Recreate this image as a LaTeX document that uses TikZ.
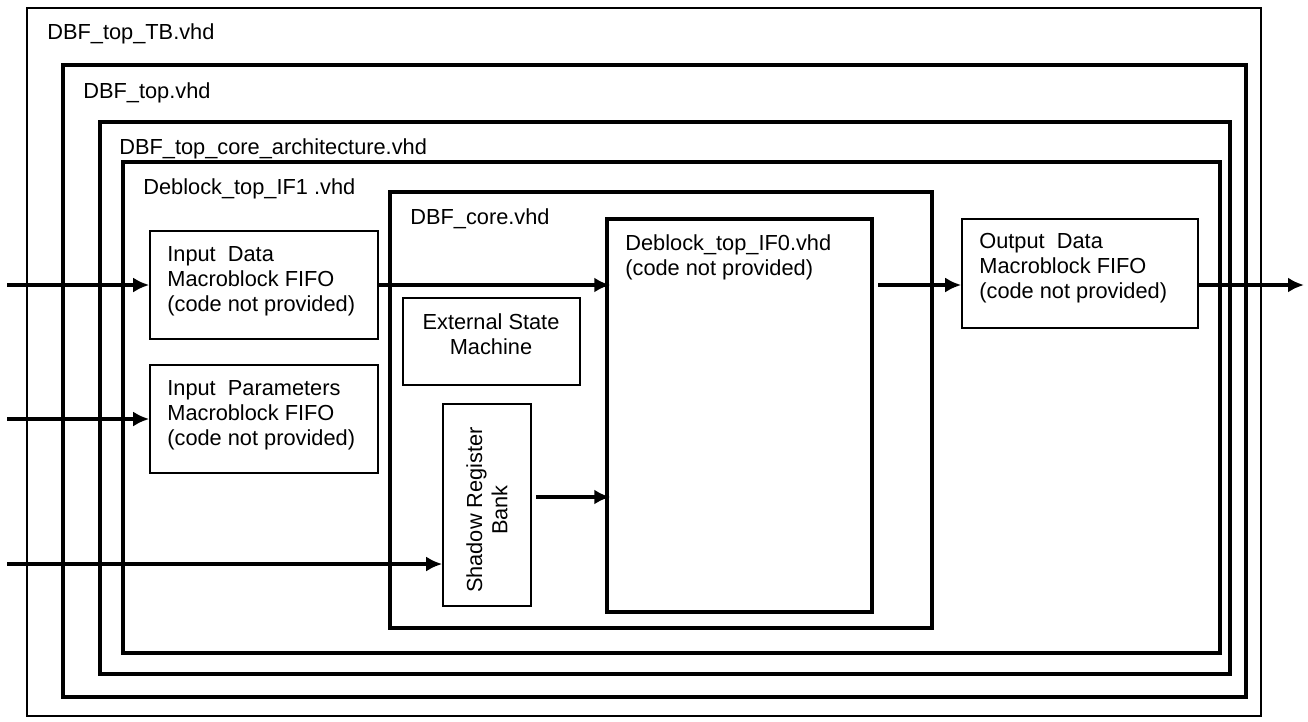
\documentclass[tikz,border=0pt]{standalone}
\usepackage{fontspec}
\setmainfont{Liberation Sans}
\usetikzlibrary{arrows.meta,fit,positioning,calc}

\tikzset{
  frame/.style={draw=black, inner sep=0pt, line width=2.4pt},
  blk/.style={draw=black, inner sep=0pt, line width=0.9pt},
  txt/.style={inner sep=0pt, align=left, anchor=north west},
  arr/.style={-{Latex[length=3.2mm,width=3mm]}, line width=1.9pt},
}

\begin{document}
\begin{tikzpicture}[x=0.02cm, y=-0.02cm, font=\fontsize{12.4}{14.3}\selectfont]

    \useasboundingbox (0,0) rectangle (1308,721);

    % nested vhd files
    \node[frame, line width=1.3pt, fit={(27,8) (1261,716)}] (tb) {};
    \node[frame, fit={(63,65) (1246,697)}] (top) {};
    \node[frame, fit={(100,122) (1230,674)}] (arch) {};
    \node[frame, fit={(123,162) (1220,653)}] (if1) {};
    \node[frame, line width=1.8pt, fit={(390,192) (932,628)}] (core) {};
    \node[frame, line width=2pt, fit={(607,219) (872,612)}] (if0) {};

    \node[txt] (tbname)   at (47,23)  {DBF\_top\_TB.vhd};
    \node[txt] (topname)  at (83,82)  {DBF\_top.vhd};
    \node[txt] (archname) at (119,138) {DBF\_top\_core\_architecture.vhd};
    \node[txt] (if1name)  at (143,178) {Deblock\_top\_IF1 .vhd};
    \node[txt] (corename) at (410,208) {DBF\_core.vhd};
    \node[txt] (if0name)  at (625,234) {Deblock\_top\_IF0.vhd\\(code not provided)};

    % blocks
    \node[blk, fit={(150,231) (378,339)}] (indata) {};
    \node[blk, fit={(150,365) (378,473)}] (inpar) {};
    \node[blk, fit={(403,298) (580,385)}] (esm) {};
    \node[blk, fit={(443,404) (531,606)}] (shadow) {};
    \node[blk, fit={(962,219) (1198,328)}] (outdata) {};

    \node[txt] (indatatxt)  at (167,246) {Input~ Data\\Macroblock FIFO\\(code not provided)};
    \node[txt] (inpartxt)   at (167,380) {Input~ Parameters\\Macroblock FIFO\\(code not provided)};
    \node[txt] (outdatatxt) at (979,233) {Output~ Data\\Macroblock FIFO\\(code not provided)};
    \node[inner sep=0pt, align=center, anchor=north] (esmtxt) at (491,313) {External State\\Machine};
    \node[inner sep=0pt, align=center, rotate=90] (shadowtxt) at (487,510) {Shadow Register\\Bank};

    % connections
    \coordinate (in1) at (7,285);
    \coordinate (in2) at (7,419);
    \coordinate (in3) at (7,564);
    \coordinate (sr)  at (536,497);
    \coordinate (o1)  at (878,285);
    \coordinate (out) at (1304,285);

    \draw[arr] (in1) -- (indata.west);
    \draw[arr] (in2) -- (inpar.west);
    \draw[arr] (in3) -- (in3 -| shadow.west);
    \draw[arr] (indata.east) -- ([xshift=1mm]indata.east -| if0.west);
    \draw[arr] (sr) -- ([xshift=1mm]sr -| if0.west);
    \draw[arr] (o1) -- (o1 -| outdata.west);
    \draw[arr] (outdata.east |- o1) -- (out);

\end{tikzpicture}
\end{document}
